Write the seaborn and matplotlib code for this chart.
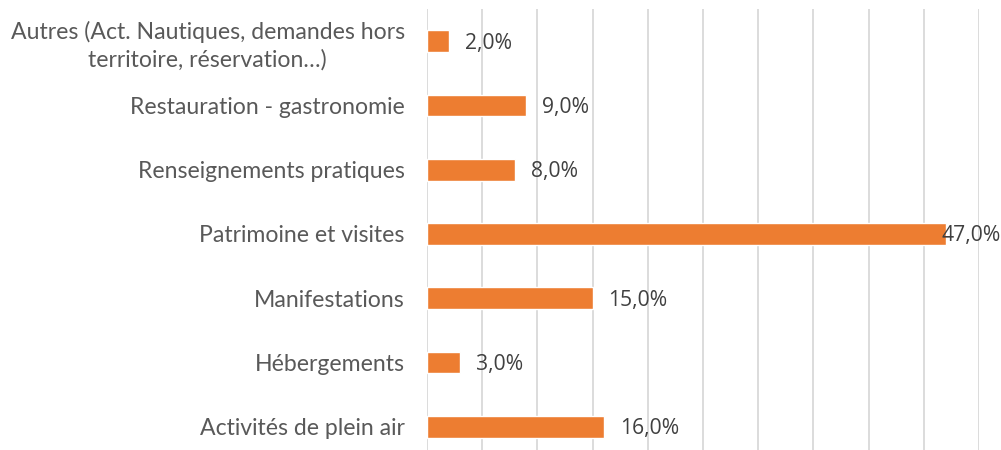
import matplotlib
matplotlib.use("Agg")
import matplotlib.pyplot as plt
import seaborn as sns
import pandas as pd

# Données (en %)
categories = [
    "Autres (Act. Nautiques, demandes hors\nterritoire, réservation…)",
    "Restauration - gastronomie",
    "Renseignements pratiques",
    "Patrimoine et visites",
    "Manifestations",
    "Hébergements",
    "Activités de plein air",
]
valeurs = [2.0, 9.0, 8.0, 47.0, 15.0, 3.0, 16.0]

df = pd.DataFrame({"categorie": categories, "valeur": valeurs})

sns.set_theme(style="white")
plt.rcParams["font.family"] = ["Lato", "DejaVu Sans"]

fig = plt.figure(figsize=(10.01, 4.5), dpi=100)
ax = fig.add_axes([427 / 1001, -9 / 450, 552 / 1001, 450 / 450])

sns.barplot(data=df, x="valeur", y="categorie", orient="h", color="#ED7D31",
            width=0.34, saturation=1, ax=ax)

ax.set_xlim(0, 50)
ax.set_ylim(6.5, -0.5)
ax.set_xticks(range(0, 51, 5))
ax.set_xticklabels([])
ax.tick_params(axis="x", length=0)
ax.tick_params(axis="y", length=0, pad=16, labelsize=16.6, labelcolor="#595959")
for lab in ax.get_yticklabels():
    lab.set_multialignment("center")
    lab.set_linespacing(1.3)
ax.grid(axis="x", color="#D9D9D9", linewidth=1.3)
ax.set_axisbelow(True)
for s in ax.spines.values():
    s.set_visible(False)
ax.set_xlabel("")
ax.set_ylabel("")

# Étiquettes de données
for i, v in enumerate(valeurs):
    txt = f"{v:.1f}%".replace(".", ",")
    dx = 16 if v < 45 else -4
    ax.annotate(txt, (v, i), xytext=(dx, -2), textcoords="offset pixels",
                ha="left", va="center", fontsize=15.2, color="#404040",
                family=["Open Sans", "DejaVu Sans"], annotation_clip=False)

fig.savefig("out.png", dpi=100)
